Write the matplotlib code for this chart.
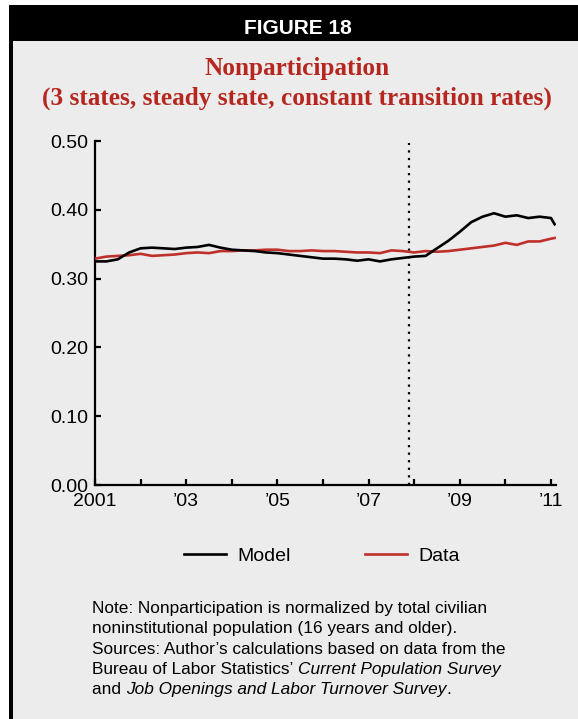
import matplotlib
matplotlib.use('Agg')
import matplotlib.pyplot as plt
from matplotlib.patches import Rectangle
from matplotlib.lines import Line2D
import numpy as np

# quarterly readings, 2001.0 .. 2011.0, plus last month
dates = [2001 + 0.25 * k for k in range(41)] + [2011.08]
model = [0.325, 0.325, 0.328, 0.338, 0.344, 0.345, 0.344, 0.343,
         0.345, 0.346, 0.349, 0.345, 0.342, 0.341, 0.340, 0.338,
         0.337, 0.335, 0.333, 0.331, 0.329, 0.329, 0.328, 0.326,
         0.328, 0.325, 0.328, 0.330, 0.332, 0.333, 0.344, 0.355,
         0.368, 0.382, 0.390, 0.395, 0.390, 0.392, 0.388, 0.390,
         0.388, 0.379]
data = [0.329, 0.332, 0.333, 0.334, 0.336, 0.333, 0.334, 0.335,
        0.337, 0.338, 0.337, 0.340, 0.340, 0.341, 0.341, 0.342,
        0.342, 0.340, 0.340, 0.341, 0.340, 0.340, 0.339, 0.338,
        0.338, 0.337, 0.341, 0.340, 0.338, 0.340, 0.339, 0.340,
        0.342, 0.344, 0.346, 0.348, 0.352, 0.349, 0.354, 0.354,
        0.358, 0.359]
recession_start = 2007.89
year_ticks = list(range(2001, 2012))
year_labels = ['2001', '', '\u201903', '', '\u201905', '', '\u201907', '', '\u201909', '', '\u201911']
y_ticks = [0.0, 0.1, 0.2, 0.3, 0.4, 0.5]

W, H = 578, 719
BG = '#ececec'
RED = '#c0302a'
plt.rcParams['font.family'] = 'Liberation Sans'

fig = plt.figure(figsize=(W / 100, H / 100), dpi=100)
fig.patch.set_facecolor('white')


def fx(px):
    return px / W


def fy(py):
    return 1 - py / H


# panel background, left border and black banner
fig.patches.append(Rectangle((fx(9), 0), 1 - fx(9), fy(5), transform=fig.transFigure,
                             facecolor=BG, edgecolor='none', zorder=-2))
fig.patches.append(Rectangle((fx(9), 0), fx(4), fy(5), transform=fig.transFigure,
                             facecolor='black', edgecolor='none', zorder=-1))
fig.patches.append(Rectangle((fx(9), fy(41)), 1 - fx(9), fy(5) - fy(41), transform=fig.transFigure,
                             facecolor='black', edgecolor='none', zorder=-1))

fig.text(fx(298), fy(34), 'FIGURE 18', color='white', fontsize=15, fontweight='bold',
         ha='center', va='baseline')
fig.text(fx(297), fy(75.5), 'Nonparticipation', color='#b5271f', fontsize=18.2,
         fontweight='bold', family='Liberation Serif', ha='center', va='baseline')
fig.text(fx(297), fy(105), '(3 states, steady state, constant transition rates)', color='#b5271f',
         fontsize=18.2, fontweight='bold', family='Liberation Serif', ha='center', va='baseline')

ax = fig.add_axes([fx(95), fy(485), fx(556) - fx(95), fy(141) - fy(485)])
ax.set_zorder(5)
ax.set_facecolor(BG)
ax.plot(dates, data, color=RED, lw=1.9, label='Data', zorder=3)
ax.plot(dates, model, color='black', lw=1.9, label='Model', zorder=4)
ax.axvline(recession_start, ymin=0, ymax=0.995, color='black', lw=1.6,
           linestyle=(0, (1, 2.4)), zorder=2)

ax.set_xlim(2001, 2011.11)
ax.set_ylim(0, 0.5)
ax.set_xticks(year_ticks)
ax.set_xticklabels(year_labels)
ax.set_yticks(y_ticks)
ax.set_yticklabels(['%.2f' % v for v in y_ticks])
for s in ['top', 'right']:
    ax.spines[s].set_visible(False)
for s in ['left', 'bottom']:
    ax.spines[s].set_linewidth(1.6)
ax.spines['left'].set_bounds(0, 0.5)
ax.tick_params(direction='in', length=4, width=1.6, labelsize=14, colors='black')
ax.tick_params(axis='x', pad=6)
ax.tick_params(axis='y', pad=5)

handles = [Line2D([], [], color='black', lw=1.9), Line2D([], [], color=RED, lw=1.9)]
fig.legend(handles, ['Model', 'Data'], loc='center', bbox_to_anchor=(fx(322), fy(556)),
           ncol=2, frameon=False, fontsize=14, handlelength=2.15, handletextpad=0.6,
           columnspacing=3.8)

# note text with italic pieces
note_lines = [
    [('Note: Nonparticipation is normalized by total civilian', 'normal')],
    [('noninstitutional population (16 years and older).', 'normal')],
    [('Sources: Author\u2019s calculations based on data from the', 'normal')],
    [('Bureau of Labor Statistics\u2019 ', 'normal'), ('Current Population Survey', 'italic')],
    [('and ', 'normal'), ('Job Openings and Labor Turnover Survey', 'italic'), ('.', 'normal')],
]
baselines = [613, 632.5, 654, 674, 694]
renderer = fig.canvas.get_renderer()
for parts, yb in zip(note_lines, baselines):
    x = fx(92.5)
    for txt, style in parts:
        t = fig.text(x, fy(yb), txt, fontsize=12.4, style=style, ha='left', va='baseline')
        bb = t.get_window_extent(renderer=renderer)
        x += bb.width / W

fig.savefig('out.png', dpi=100, facecolor=fig.get_facecolor())
